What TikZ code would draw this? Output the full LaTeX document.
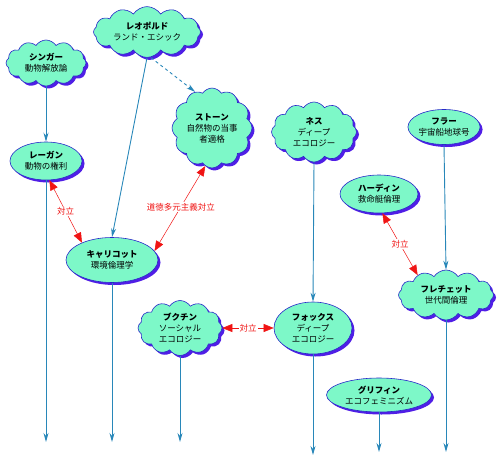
\documentclass[tikz,border=0pt]{standalone}
\usepackage{fontspec}
\setmainfont{Noto Sans CJK JP}
\usetikzlibrary{shapes.symbols,shapes.geometric,shadows,arrows.meta,calc}
\definecolor{aqua}{RGB}{125,248,200}
\definecolor{bordblue}{RGB}{40,40,200}
\definecolor{shadowblue}{RGB}{80,30,230}
\definecolor{flowblue}{RGB}{40,135,185}
\definecolor{oppred}{RGB}{240,20,20}
\tikzset{
  base/.style={draw=bordblue, fill=aqua, line width=0.6pt, align=center, inner sep=0pt,
    font=\fontsize{8.5}{11}\selectfont,
    drop shadow={shadow xshift=2.5pt, shadow yshift=-2.5pt, fill=shadowblue, opacity=1}},
  cl/.style={base, cloud, cloud puffs=12, cloud puff arc=115},
  el/.style={base, ellipse},
  flow/.style={draw=flowblue, line width=0.9pt, -{Stealth[length=9pt,width=5pt]}},
  dflow/.style={flow, dashed},
  opp/.style={draw=oppred, line width=0.5pt, {Triangle[length=10pt,width=8pt]}-{Triangle[length=10pt,width=8pt]}},
  lbl/.style={fill=white, text=oppred, inner sep=1pt, font=\fontsize{8.5}{10}\selectfont}
}
\begin{document}
\begin{tikzpicture}[x=1pt,y=-1pt]
\useasboundingbox (0,0) rectangle (500,460);
% nodes
\node[cl, minimum width=107pt, minimum height=42pt, aspect=2.5] (leo) at (147,32) {\textbf{レオポルド}\\ランド・エシック};
\node[cl, minimum width=80pt, minimum height=46pt, aspect=1.7] (sing) at (46,63) {\textbf{シンガー}\\動物解放論};
\node[cl, minimum width=74pt, minimum height=72pt, aspect=1] (stone) at (212,128) {\textbf{ストーン}\\自然物の当事\\者適格};
\node[cl, minimum width=85pt, minimum height=60pt, aspect=1.4] (nes) at (314,132) {\textbf{ネス}\\ディープ\\エコロジー};
\node[el, minimum width=70pt, minimum height=35pt] (ful) at (444,127) {\textbf{フラー}\\宇宙船地球号};
\node[el, minimum width=72pt, minimum height=38pt] (reg) at (46,161) {\textbf{レーガン}\\動物の権利};
\node[el, minimum width=78pt, minimum height=38pt] (har) at (379,194) {\textbf{ハーディン}\\救命艇倫理};
\node[el, minimum width=92pt, minimum height=45pt] (cal) at (112,260) {\textbf{キャリコット}\\環境倫理学};
\node[cl, minimum width=95pt, minimum height=50pt, aspect=1.9] (fle) at (446,295) {\textbf{フレチェット}\\世代間倫理};
\node[cl, minimum width=84pt, minimum height=55pt, aspect=1.5] (book) at (180,328) {\textbf{ブクチン}\\ソーシャル\\エコロジー};
\node[el, minimum width=78pt, minimum height=52pt] (fox) at (313,328) {\textbf{フォックス}\\ディープ\\エコロジー};
\node[el, minimum width=105pt, minimum height=34pt] (gri) at (379,395) {\textbf{グリフィン}\\エコフェミニズム};
% free ends
\coordinate (e1) at (46,442);
\coordinate (e2) at (112,442);
\coordinate (e3) at (180,442);
\coordinate (e4) at (313,455);
\coordinate (e5) at (379,452);
\coordinate (e6) at (446,452);
% blue flows
\draw[flow] (sing.south) -- (reg.north);
\draw[flow] (leo.south) -- (cal.north);
\draw[dflow] ($(leo.south)+(4,0)$) -- (stone.115);
\draw[flow] (nes.south) -- (fox.north);
\draw[flow] (ful.south) -- (fle.north);
\draw[flow] (reg.south) -- (e1);
\draw[flow] (cal.south) -- (e2);
\draw[flow] (book.south) -- (e3);
\draw[flow] (fox.south) -- (e4);
\draw[flow] (gri.south) -- (e5);
\draw[flow] (fle.south) -- (e6);
% oppositions
\draw[opp] (reg.-80) -- node[lbl]{対立} (cal.150);
\draw[opp] (stone.-100) -- node[lbl, pos=0.48]{道徳多元主義対立} (cal.12);
\draw[opp] (har.-80) -- node[lbl]{対立} (fle.145);
\draw[opp] (book.east) -- node[lbl]{対立} (fox.west);
\end{tikzpicture}
\end{document}
